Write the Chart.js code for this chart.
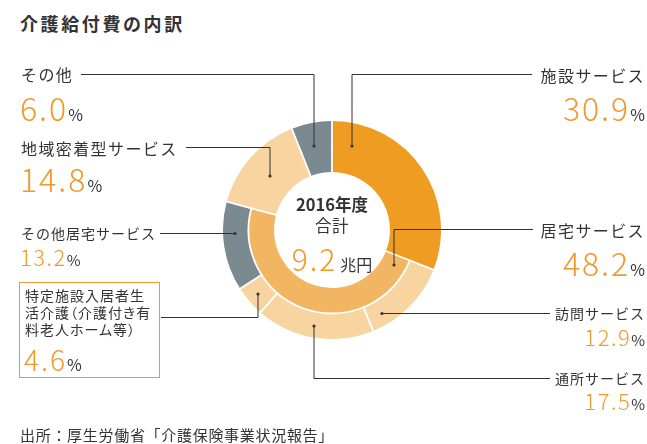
<!DOCTYPE html>
<html lang="ja">
<head>
    <meta charset="UTF-8">
    <title>介護給付費の内訳</title>
    <script src="https://cdn.jsdelivr.net/npm/chart.js"></script>
    <style>
        body { margin: 0; width: 647px; height: 444px; background: #fff; position: relative; overflow: hidden;
               font-family: "Noto Sans CJK JP", "Noto Sans", sans-serif; color: #333; }
        .abs { position: absolute; white-space: nowrap; }
        .title { left: 20px; top: 14px; font-size: 18px; line-height: 18px; font-weight: bold; letter-spacing: 2.6px; color: #333; }
        .lbl { font-size: 16px; line-height: 16px; letter-spacing: 1.4px; }
        .lbl.sm { font-size: 14px; line-height: 14px; letter-spacing: 1px; }
        .num { font-size: 32px; line-height: 32px; color: #F0992A; font-weight: 300; letter-spacing: 2px; }
        .num small { font-size: 16px; color: #333; letter-spacing: 0; font-weight: 400; }
        .num.md { font-size: 22px; line-height: 22px; letter-spacing: 1.5px; }
        .num.md small { font-size: 15px; }
        .right { right: 2px; text-align: right; }
        #chartBox { position: absolute; left: 223px; top: 121px; width: 218px; height: 218px; }
        #lines { position: absolute; left: 0; top: 0; }
        .box { left: 19px; top: 282px; width: 139px; height: 94px; border: 1.5px solid #F0992A; }
        .boxText { left: 25px; font-feature-settings: "palt"; letter-spacing: 1.6px; }
        .center { left: 272px; width: 120px; text-align: center; }
    </style>
</head>
<body>
    <div class="abs title">介護給付費の内訳</div>

    <div id="chartBox"><canvas id="careChart"></canvas></div>

    <svg id="lines" width="647" height="444">
        <g stroke="#333" stroke-width="1" fill="none">
            <polyline points="81,74.5 314,74.5 314,146"/>
            <polyline points="532,74.5 352,74.5 352,146"/>
            <polyline points="186,147.5 270,147.5 270,176"/>
            <polyline points="533,229.5 394,229.5 394,265"/>
            <polyline points="160,233.5 235,233.5"/>
            <polyline points="161,317.5 258,317.5 258,294"/>
            <polyline points="550,313.5 382,313.5"/>
            <polyline points="550,378.5 314,378.5 314,326"/>
        </g>
        <g fill="#333">
            <circle cx="314" cy="146" r="1.6"/>
            <circle cx="352" cy="146" r="1.6"/>
            <circle cx="270" cy="176" r="1.6"/>
            <circle cx="394" cy="265" r="1.6"/>
            <circle cx="235" cy="233.5" r="1.6"/>
            <circle cx="258" cy="294" r="1.6"/>
            <circle cx="382" cy="313.5" r="1.6"/>
            <circle cx="314" cy="326" r="1.6"/>
        </g>
    </svg>

    <!-- left side -->
    <div class="abs lbl" style="left:21px; top:66px;">その他</div>
    <div class="abs num" style="left:20px; top:91px;" id="v6"></div>
    <div class="abs lbl" style="left:21px; top:140px;">地域密着型サービス</div>
    <div class="abs num" style="left:20px; top:162px;" id="v5"></div>
    <div class="abs lbl sm" style="left:21px; top:226px;">その他居宅サービス</div>
    <div class="abs num md" style="left:20px; top:245px;" id="v4"></div>
    <div class="abs box"></div>
    <div class="abs lbl sm boxText" style="top:288px;">特定施設入居者生</div>
    <div class="abs lbl sm boxText" style="top:305px;">活介護（介護付き有</div>
    <div class="abs lbl sm boxText" style="top:322px;">料老人ホーム等）</div>
    <div class="abs num" style="left:24px; top:345px; font-size:28px; line-height:28px;" id="v3"></div>

    <!-- right side -->
    <div class="abs lbl right" style="top:67px;">施設サービス</div>
    <div class="abs num right" style="top:91px;" id="v0"></div>
    <div class="abs lbl right" style="top:222px;">居宅サービス</div>
    <div class="abs num right" style="top:246px;" id="g1"></div>
    <div class="abs lbl sm right" style="top:306px;">訪問サービス</div>
    <div class="abs num md right" style="top:325px;" id="v1"></div>
    <div class="abs lbl sm right" style="top:371px;">通所サービス</div>
    <div class="abs num md right" style="top:389px;" id="v2"></div>

    <!-- centre -->
    <div class="abs center" style="top:195.5px; font-size:16.5px; line-height:16.5px; font-weight:bold;">2016年度</div>
    <div class="abs center" style="top:216.5px; font-size:16.5px; line-height:16.5px; letter-spacing:0.5px;">合計</div>
    <div class="abs center num" style="top:243px; font-size:30px; line-height:30px;"><span id="total"></span><small style="margin-left:3px;">兆円</small></div>

    <div class="abs" style="left:20px; top:427px; font-size:15px; line-height:15px; letter-spacing:0.7px;">出所：厚生労働省「介護保険事業状況報告」</div>

    <script>
        // outer ring: service breakdown (%)
        const categories = ['施設サービス', '訪問サービス', '通所サービス', '特定施設入居者生活介護', 'その他居宅サービス', '地域密着型サービス', 'その他'];
        const shares = [30.9, 12.9, 17.5, 4.6, 13.2, 14.8, 6.0];
        // inner ring: groups (%)
        const groups = ['施設サービス', '居宅サービス', '地域密着型サービス', 'その他'];
        const groupShares = [30.9, 48.2, 14.8, 6.0];
        const totalTrillionYen = 9.2;

        const ORANGE = '#EE9C22';
        const PEACH = '#F8D4A0';
        const GRAY = '#7B8A91';
        const LIGHT_ORANGE = '#F2B561';

        const outerColors = [ORANGE, PEACH, PEACH, PEACH, GRAY, PEACH, GRAY];
        const innerColors = [ORANGE, LIGHT_ORANGE, PEACH, GRAY];

        // fill in the text labels
        shares.forEach((v, i) => {
            document.getElementById('v' + i).innerHTML = v.toFixed(1) + '<small>%</small>';
        });
        document.getElementById('g1').innerHTML = groupShares[1].toFixed(1) + '<small>%</small>';
        document.getElementById('total').textContent = totalTrillionYen.toFixed(1);

        // hide the seam where a slice runs through both rings, then draw white separators
        const separators = {
            id: 'separators',
            afterDatasetsDraw(chart) {
                const ctx = chart.ctx;
                ctx.save();
                const innerMeta = chart.getDatasetMeta(1);
                innerMeta.data.forEach((arc, j) => {
                    if (chart.data.datasets[1].ringEdge[j]) return;
                    const p = arc.getProps(['x', 'y', 'startAngle', 'endAngle', 'outerRadius'], true);
                    ctx.strokeStyle = innerColors[j];
                    ctx.lineWidth = 2;
                    ctx.beginPath();
                    ctx.arc(p.x, p.y, p.outerRadius, p.startAngle, p.endAngle);
                    ctx.stroke();
                });
                ctx.strokeStyle = '#fff';
                ctx.lineWidth = 1.8;
                chart.data.datasets.forEach((ds, i) => {
                    chart.getDatasetMeta(i).data.forEach((arc, j) => {
                        const p = arc.getProps(['x', 'y', 'startAngle', 'endAngle', 'innerRadius', 'outerRadius'], true);
                        ctx.beginPath();
                        ctx.moveTo(p.x + Math.cos(p.startAngle) * (p.innerRadius - 1), p.y + Math.sin(p.startAngle) * (p.innerRadius - 1));
                        ctx.lineTo(p.x + Math.cos(p.startAngle) * (p.outerRadius + 1), p.y + Math.sin(p.startAngle) * (p.outerRadius + 1));
                        ctx.stroke();
                        if (ds.ringEdge && ds.ringEdge[j]) {
                            ctx.beginPath();
                            ctx.arc(p.x, p.y, p.outerRadius, p.startAngle, p.endAngle);
                            ctx.stroke();
                        }
                    });
                });
                ctx.restore();
            }
        };

        const ctx = document.getElementById('careChart').getContext('2d');
        new Chart(ctx, {
            type: 'doughnut',
            data: {
                labels: categories,
                datasets: [{
                    data: shares,
                    backgroundColor: outerColors,
                    borderWidth: 0
                }, {
                    data: groupShares,
                    backgroundColor: innerColors,
                    borderWidth: 0,
                    ringEdge: [false, true, false, false]
                }]
            },
            options: {
                responsive: true,
                maintainAspectRatio: false,
                animation: false,
                cutout: '53.2%',
                hoverOffset: 0,
                plugins: {
                    legend: { display: false },
                    tooltip: { enabled: false }
                }
            },
            plugins: [separators]
        });
    </script>
</body>
</html>
